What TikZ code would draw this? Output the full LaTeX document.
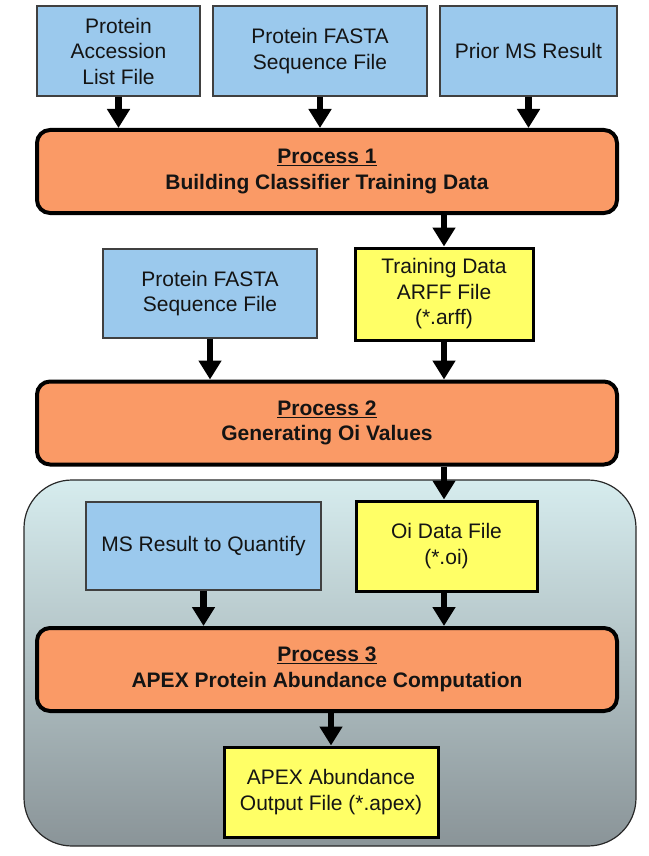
\documentclass[tikz,border=0pt]{standalone}
\usepackage{fontspec}
\setmainfont{Liberation Sans}
\usetikzlibrary{arrows.meta,positioning}
\definecolor{bluebox}{RGB}{155,201,237}
\definecolor{yellowbox}{RGB}{255,255,102}
\definecolor{orangebox}{RGB}{250,154,102}
\definecolor{paneltop}{RGB}{214,236,238}
\definecolor{panelbot}{RGB}{138,148,152}
\definecolor{panelline}{RGB}{40,40,40}
\tikzset{
  txt/.style={font=\fontsize{21}{25.5}\selectfont, align=center, text=black!92},
  bluefile/.style={txt, draw=black!75, line width=1.4pt, fill=bluebox, inner sep=0pt},
  yellowfile/.style={txt, draw=black, line width=3pt, fill=yellowbox, inner sep=0pt},
  procbox/.style={txt, font=\fontsize{21}{25.5}\selectfont\bfseries, draw=black, line width=4pt, fill=orangebox, rounded corners=13pt, inner sep=0pt, minimum width=580pt, minimum height=83pt},
  arr/.style={line width=6.5pt, -{Triangle[width=22pt,length=19pt]}, black}
}
\begin{document}
\begin{tikzpicture}[x=1pt,y=-1pt]
\useasboundingbox (0,0) rectangle (648,856);
% panel
\shade[top color=paneltop, bottom color=panelbot, draw=panelline, line width=1.2pt, rounded corners=48pt] (24,480) rectangle (636,846);

% top input files
\node[bluefile, minimum width=163pt, minimum height=90pt] (A) at (118.5,51) {Protein\\Accession\\List File};
\node[bluefile, minimum width=214pt, minimum height=90pt] (B) at (320,51) {Protein FASTA\\Sequence File};
\node[bluefile, minimum width=177pt, minimum height=90pt] (C) at (528.5,51) {Prior MS Result};

\node[procbox] (P1) at (327,171.5) {\underline{Process 1}\\Building Classifier Training Data};

\node[bluefile, minimum width=214pt, minimum height=89pt] (D) at (210,293.5) {Protein FASTA\\Sequence File};
\node[yellowfile, minimum width=178pt, minimum height=92pt] (T) at (444,294) {Training Data\\ARFF File\\(*.arff)};

\node[procbox] (P2) at (327,423) {\underline{Process 2}\\Generating Oi Values};

\node[bluefile, minimum width=235pt, minimum height=88pt] (M) at (203.5,546) {MS Result to Quantify};
\node[yellowfile, minimum width=181pt, minimum height=90pt] (O) at (446.5,546) {Oi Data File\\(*.oi)};

\node[procbox] (P3) at (327,669.5) {\underline{Process 3}\\APEX Protein Abundance Computation};

\node[yellowfile, minimum width=214pt, minimum height=90pt] (X) at (331,792) {APEX Abundance\\Output File (*.apex)};

% connectors
\draw[arr] (A.south) -- (A.south |- P1.north);
\draw[arr] (B.south) -- (B.south |- P1.north);
\draw[arr] (C.south) -- (C.south |- P1.north);
\draw[arr] (P1.south -| T.north) -- (T.north);
\draw[arr] (D.south) -- (D.south |- P2.north);
\draw[arr] (T.south) -- (T.south |- P2.north);
\draw[arr] (P2.south -| T.north) -- (T.north |- O.north);
\draw[arr] (M.south) -- (M.south |- P3.north);
\draw[arr] (O.south -| T.south) -- (T.south |- P3.north);
\draw[arr] (P3.south -| X.north) -- (X.north);
\end{tikzpicture}
\end{document}
